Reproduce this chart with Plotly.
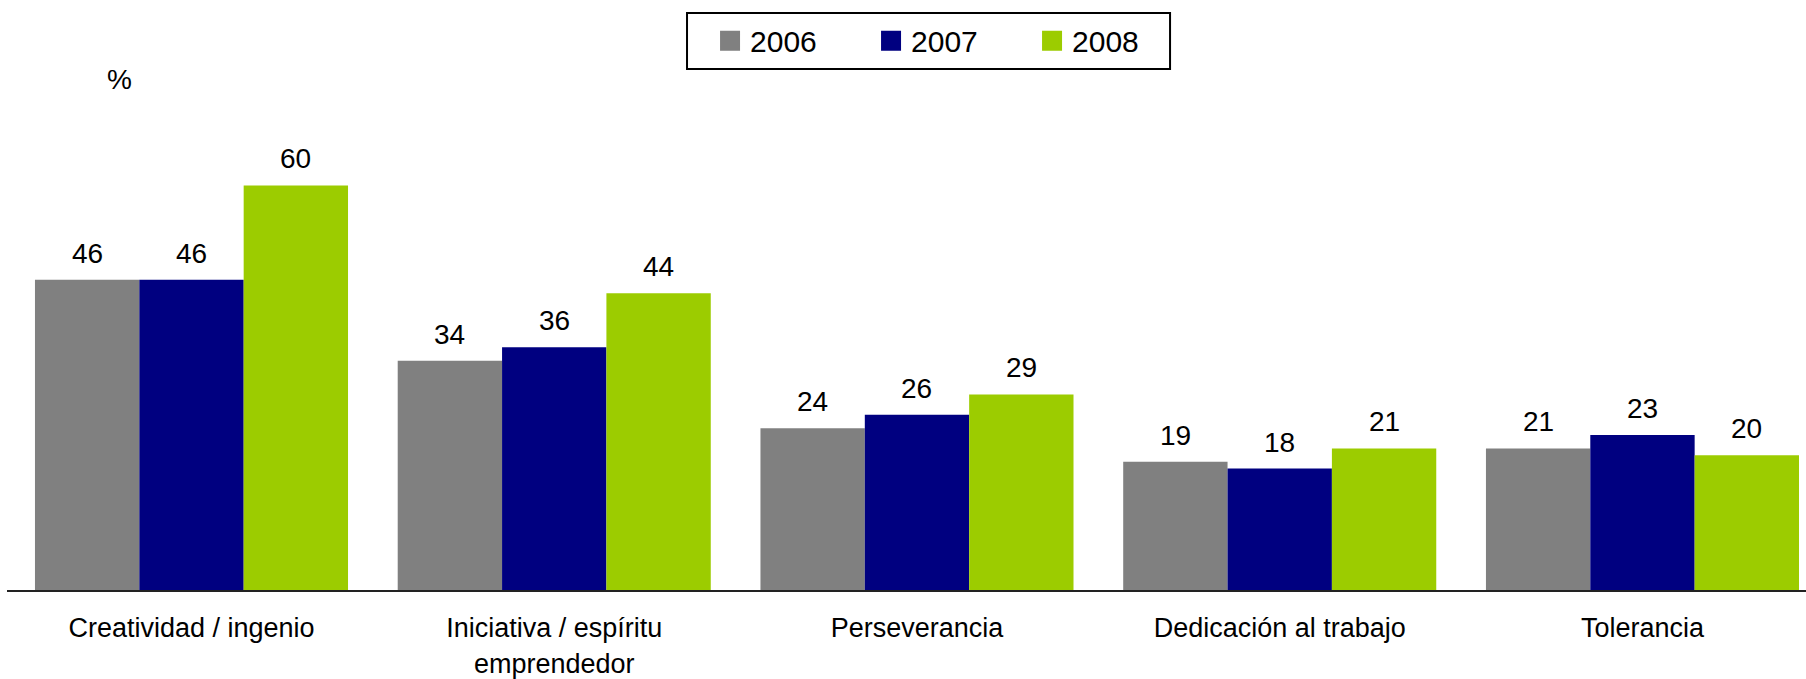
import plotly.graph_objects as go

categories = ["Creatividad / ingenio", "Iniciativa / espíritu<br>emprendedor", "Perseverancia",
              "Dedicación al trabajo", "Tolerancia"]
years = ["2006", "2007", "2008"]
v2006 = [46, 34, 24, 19, 21]
v2007 = [46, 36, 26, 18, 23]
v2008 = [60, 44, 29, 21, 20]
colors = ["#808080", "#000080", "#9CCC00"]

series = [v2006, v2007, v2008]
FONT = "Arial, Liberation Sans, sans-serif"
BARGAP = 0.137

fig = go.Figure()
for name, vals, col in zip(years, series, colors):
    fig.add_trace(go.Bar(x=categories, y=vals, name=name, marker=dict(color=col, line=dict(width=0)),
                         showlegend=False))
# legend entries with larger square symbols
for name, col in zip(years, colors):
    fig.add_trace(go.Scatter(x=[None], y=[None], mode="markers", name=name,
                             marker=dict(symbol="square", size=16, color=col, line=dict(color=col, width=4))))

# data labels
bw = (1 - BARGAP) / len(series)
for j, vals in enumerate(series):
    off = (j - (len(series) - 1) / 2) * bw
    for i, v in enumerate(vals):
        fig.add_annotation(x=i + off, y=v, xref="x", yref="y", text=str(v), showarrow=False,
                           xanchor="center", yanchor="bottom", yshift=9,
                           font=dict(size=28, color="black", family=FONT))

fig.add_annotation(x=0.0628, y=1.041, xref="paper", yref="paper", text="%", showarrow=False,
                   xanchor="center", yanchor="middle",
                   font=dict(size=28, color="black", family=FONT))

# legend frame
fig.add_shape(type="rect", xref="paper", yref="paper", x0=0.378, x1=0.6465, y0=1.0633, y1=1.1776,
              line=dict(color="black", width=2), fillcolor="rgba(0,0,0,0)")

fig.update_layout(
    width=1806, height=679,
    margin=dict(l=7, r=0, t=100, b=89, autoexpand=False),
    barmode="group", bargap=BARGAP, bargroupgap=0,
    plot_bgcolor="white", paper_bgcolor="white",
    font=dict(family=FONT, color="black"),
    legend=dict(orientation="h", x=0.3908, xanchor="left", y=1.174, yanchor="top",
                borderwidth=0, bgcolor="rgba(0,0,0,0)",
                font=dict(size=30, family=FONT), entrywidth=116, entrywidthmode="pixels"),
    xaxis=dict(range=[-0.5086, 4.4508], showline=True, linecolor="#222222", linewidth=2,
               ticks="", tickfont=dict(size=27, family=FONT), ticklabelstandoff=13,
               showgrid=False, zeroline=False, automargin=False),
    yaxis=dict(range=[0, 72.66], visible=False, showgrid=False, zeroline=False, automargin=False),
)

fig.write_html("out.html", config={"displayModeBar": False},
               post_script="document.body.style.margin='0';document.body.style.overflow='hidden';")
